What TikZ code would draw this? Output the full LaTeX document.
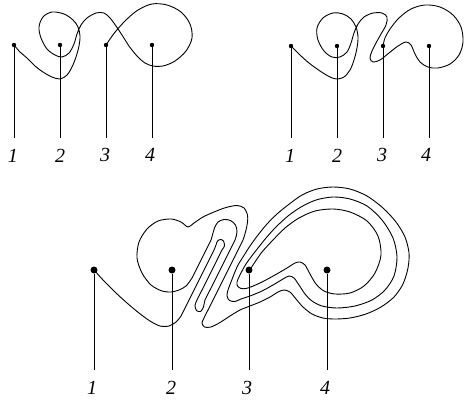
\documentclass[tikz,border=0pt]{standalone}
\usepackage{fontspec}
\setmainfont{Liberation Serif}
\begin{document}
\begin{tikzpicture}[x=1pt,y=-1pt,
  curve/.style={line width=0.9pt, line join=round},
  rod/.style={line width=0.9pt},
  dotS/.style={circle, fill, inner sep=0pt, minimum size=4.4pt},
  dotL/.style={circle, fill, inner sep=0pt, minimum size=7pt},
  lbl/.style={font=\fontsize{20}{24}\selectfont\itshape, inner sep=0pt},
]
\useasboundingbox (0,0) rectangle (464,413);

% ---------- panel 1 ----------
\draw[curve] plot[smooth, tension=0.55] coordinates {
(14,45) (20,52) (27,58) (35,66) (43,72) (52,77) (60,79) (67,75) (72,67) (76,57) (79,46) (80,36) (78,27) (73,20) (64,14) (52,12) (43,17) (39,27) (41,38) (47,49) (55,55) (62,57) (69,53) (74,44) (77,34) (81,25) (87,18) (96,13) (104,13) (110,18) (116,26) (122,35) (129,46) (137,56) (145,63) (153,66) (163,66) (175,61) (186,51) (192,38) (190,24) (181,12) (167,5) (152,4) (138,10) (126,20) (116,31) (110,39) (106,45)};
\foreach \i/\x in {1/14,2/60,3/106,4/152}{
  \node[dotS] (a\i) at (\x,45) {};
  \coordinate (a\i e) at (\x,138);
  \draw[rod] (a\i) -- (a\i e);
}
\node[lbl] (a1t) at (13,156) {1};
\node[lbl] (a2t) at (60,156) {2};
\node[lbl] (a3t) at (105,155) {3};
\node[lbl] (a4t) at (150,155) {4};

% ---------- panel 2 ----------
\draw[curve] plot[smooth, tension=0.55] coordinates {
(291,46) (300,55) (309,63) (320,71) (330,77) (337,79) (344,77) (350,70) (354,60) (357,48) (358,37) (356,27) (351,19) (343,14) (333,13) (323,18) (317,28) (318,40) (324,51) (332,57) (340,57) (347,52) (351,43) (354,33) (358,24) (364,17) (373,13) (382,13) (387,17) (386,25) (381,34) (376,43) (372,51) (370,58) (373,62) (380,60) (389,53) (398,46) (406,42) (411,45) (415,54) (420,62) (428,67) (438,68) (450,64) (459,55) (463,42) (461,27) (453,15) (440,7) (425,5) (411,9) (399,18) (390,29) (385,38) (383,46)};
\foreach \i/\x in {1/291,2/337,3/383,4/429}{
  \node[dotS] (b\i) at (\x,46) {};
  \coordinate (b\i e) at (\x,138);
  \draw[rod] (b\i) -- (b\i e);
}
\node[lbl] (b1t) at (290,156) {1};
\node[lbl] (b2t) at (337,156) {2};
\node[lbl] (b3t) at (382,155) {3};
\node[lbl] (b4t) at (426,155) {4};

% ---------- panel 3 ----------
\draw[curve] plot[smooth, tension=0.5] coordinates {
(94,270) (104,281) (115,292) (127,303) (139,313) (150,321) (160,326) (169,326) (176,322) (181,316) (184,310)
(189,300) (194,290) (199,280) (204,270) (209,260) (214,250) (216,245) (217.5,241) (220.5,239.5) (223.5,241) (224.5,246)
(222,250) (217,260) (212,270) (207,280) (202,290) (197,300) (195,305.5) (196.5,310.5) (200.5,311.5) (203.5,307) (205,300)
(210,290) (215,280) (220,270) (225,260) (230,250) (235,240) (237,232) (235.5,225) (230.5,220.5) (224,219.5) (218,222) (214.5,228) (212.5,235)
(211,240) (206,250) (201,260) (196,270) (192,278) (186,286) (179,290) (171,292) (162,291) (151,285) (142,273) (137,258) (139,242) (147,229) (158,221) (171,219) (181,222) (188,227)
(194,223) (203,217) (214,212) (226,207.5) (237,205.5) (244,208) (247.5,215)
(247.5,222) (246,230) (243,240) (238,250) (233,260) (228,270) (223,280) (218,290) (213,300) (208,310) (204,318) (202,323) (204.5,327) (211,327) (220,322.5) (230,316) (240,310)
(250,306) (260,302) (270,297) (278,292) (284,290) (290,292) (296,299) (303,307) (312,314) (323,318) (335,319) (350,318) (366,314) (381,307) (394,297) (403,284) (408,268) (409,253) (405,237) (396,222) (383,208) (367,196) (350,189) (333,187) (317,189) (302,195)
(288,205) (277,214) (267,224) (258,235) (250,246) (243,257) (238,265) (234.5,273) (231,282) (228,290) (227,296) (229.5,300.5) (235,301.5) (241,299)
(250,296) (262,291) (273,285) (283,279) (289,276) (294,278) (299,285) (305,294) (312,301) (322,306) (337,308) (355,306) (372,300) (385,290) (394,276) (397,257) (393,238) (382,220) (367,206) (350,199) (333,197) (316,200) (301,207)
(288,216) (276,227) (266,238) (258,248) (251,257) (246,264) (242,271) (239,277) (237,282) (237.5,286) (241,288.5) (246,288.5) (252,286.5)
(262,282) (275,275) (287,268) (295,263) (300,262) (305,265) (310,274) (316,284) (324,291) (335,294) (350,293) (364,286) (375,273) (381,255) (378,236) (367,221) (350,212) (333,209) (315,211) (299,218) (285,228) (273,240) (262,252) (255,262) (249,271)};
\foreach \i/\x in {1/94,2/172,3/249,4/327}{
  \node[dotL] (c\i) at (\x,270) {};
  \coordinate (c\i e) at (\x,370);
  \draw[rod] (c\i) -- (c\i e);
}
\node[lbl] (c1t) at (92,388) {1};
\node[lbl] (c2t) at (171,388) {2};
\node[lbl] (c3t) at (247,388) {3};
\node[lbl] (c4t) at (325,388) {4};
\end{tikzpicture}
\end{document}
